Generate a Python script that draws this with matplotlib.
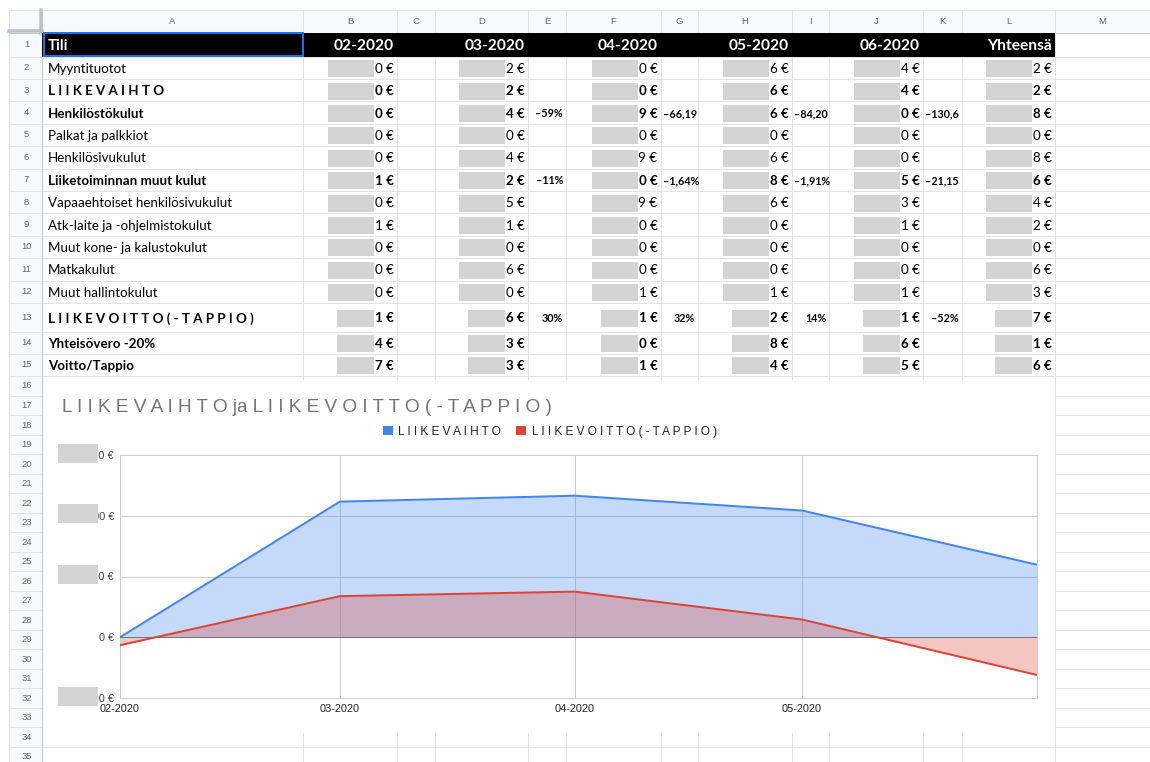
import matplotlib
matplotlib.use("Agg")
import matplotlib.pyplot as plt
import matplotlib.dates as mdates
from matplotlib.patches import Rectangle, Patch
from matplotlib.ticker import FuncFormatter, FixedLocator
from datetime import date
import numpy as np

W, H, DPI = 1150, 762, 100
PT = 72 / DPI  # points per pixel

# ---- chart data (euros) ----
months = ["02-2020", "03-2020", "04-2020", "05-2020", "06-2020"]
month_starts = [date(2020, 2, 1), date(2020, 3, 1), date(2020, 4, 1),
                date(2020, 5, 1), date(2020, 6, 1)]
liikevaihto = [0, 2232, 2330, 2086, 1194]
liikevoitto = [-131, 676, 751, 292, -621]
y_ticks = [-1000, 0, 1000, 2000, 3000]

# ---- sheet content ----
header_labels = ["Tili", "02-2020", "03-2020", "04-2020", "05-2020", "06-2020", "Yhteensä"]
row_labels = ["Myyntituotot", "L I I K E V A I H T O", "Henkilöstökulut",
              "Palkat ja palkkiot", "Henkilösivukulut", "Liiketoiminnan muut kulut",
              "Vapaaehtoiset henkilösivukulut", "Atk-laite ja -ohjelmistokulut",
              "Muut kone- ja kalustokulut", "Matkakulut", "Muut hallintokulut",
              "L I I K E V O I T T O ( - T A P P I O )", "Yhteisövero -20%", "Voitto/Tappio"]
bold_rows = [3, 4, 7, 13, 14, 15]

# amounts are masked in the sheet; only the last digit of each stays readable
digits_myyntituotot = [0, 2, 0, 6, 4, 2]
digits_henkilostokulut = [0, 4, 9, 6, 0, 8]
digits_palkat = [0, 0, 0, 0, 0, 0]
digits_henkilosivukulut = [0, 4, 9, 6, 0, 8]
digits_muut_kulut = [1, 2, 0, 8, 5, 6]
digits_vapaaehtoiset = [0, 5, 9, 6, 3, 4]
digits_atk = [1, 1, 0, 0, 1, 2]
digits_kone = [0, 0, 0, 0, 0, 0]
digits_matka = [0, 6, 0, 0, 0, 6]
digits_hallinto = [0, 0, 1, 1, 1, 3]
digits_vero = [4, 3, 0, 8, 6, 1]
digits_voitto = [7, 3, 1, 4, 5, 6]

notes_henkilostokulut = ["–59%", "–66,19", "–84,20", "–130,6"]
notes_muut_kulut = ["–11%", "–1,64%", "–1,91%", "–21,15"]


def last_digits(values):
    vals = list(values) + [sum(values)]
    return [abs(int(v)) % 10 for v in vals]


def margin_notes(profit, revenue):
    out = []
    for p, r in zip(profit[1:], revenue[1:]):
        pct = int(round(100 * p / r))
        out.append(("–" if pct < 0 else "") + f"{abs(pct)}%")
    return out


cell_digits = {
    2: digits_myyntituotot, 3: last_digits(liikevaihto), 4: digits_henkilostokulut,
    5: digits_palkat, 6: digits_henkilosivukulut, 7: digits_muut_kulut,
    8: digits_vapaaehtoiset, 9: digits_atk, 10: digits_kone, 11: digits_matka,
    12: digits_hallinto, 13: last_digits(liikevoitto), 14: digits_vero, 15: digits_voitto,
}
cell_notes = {4: notes_henkilostokulut, 7: notes_muut_kulut,
              13: margin_notes(liikevoitto, liikevaihto)}

# ---- styling ----
GRID = "#e2e3e3"
HEAD_BG = "#f8f9fa"
HEAD_LINE = "#c4c7c5"
LABEL_GRAY = "#5f6368"
MASK = "#d4d4d4"
BLUE = "#4285f4"
RED = "#db4437"
SHEET_FONT = ["Lato", "DejaVu Sans"]
UI_FONT = ["Liberation Sans", "DejaVu Sans"]

col_edges = [42, 303, 397, 435, 528, 566, 661, 698, 792, 829, 923, 962, 1055, 1150]
col_names = list("ABCDEFGHIJKLM")
value_cols = [1, 3, 5, 7, 9, 11]
note_cols = [4, 6, 8, 10]
row_heights = [24] + [22.4] * 11 + [29, 22, 22, 20] + [19.5] * 19 + [15]
row_edges = np.concatenate([[32.5], 32.5 + np.cumsum(row_heights)])
left_edge, top_edge = 9, 10
chart_box = (43, 380, 1055, 733)


def row_center(r):
    return (row_edges[r - 1] + row_edges[r]) / 2


fig = plt.figure(figsize=(W / DPI, H / DPI), dpi=DPI)
fig.patch.set_facecolor("white")
sheet = fig.add_axes([0, 0, 1, 1])
sheet.set_xlim(0, W)
sheet.set_ylim(H, 0)
sheet.axis("off")

# header strips
sheet.add_patch(Rectangle((left_edge, top_edge), W - left_edge, row_edges[0] - top_edge,
                          fc=HEAD_BG, ec="none", zorder=0))
sheet.add_patch(Rectangle((left_edge, row_edges[0]), col_edges[0] - left_edge, H,
                          fc=HEAD_BG, ec="none", zorder=0))

# cell grid
for y in row_edges[:-1]:
    sheet.plot([left_edge, W], [y, y], color=GRID, lw=1 * PT, zorder=1)
for x in col_edges[1:-1]:
    sheet.plot([x, x], [top_edge, H], color=GRID, lw=1 * PT, zorder=1)
sheet.plot([left_edge, W], [top_edge, top_edge], color=GRID, lw=1 * PT, zorder=1)
sheet.plot([left_edge, left_edge], [top_edge, H], color=GRID, lw=1 * PT, zorder=1)
sheet.plot([left_edge, W], [row_edges[0], row_edges[0]], color=HEAD_LINE, lw=1 * PT, zorder=2)
sheet.plot([col_edges[0], col_edges[0]], [top_edge, H], color=HEAD_LINE, lw=1 * PT, zorder=2)
sheet.plot([col_edges[0] - 1.5, col_edges[0] - 1.5], [top_edge, row_edges[0]],
           color="#bdc1c6", lw=3.5 * PT, zorder=2)
sheet.plot([left_edge, col_edges[0]], [row_edges[0] - 1.5, row_edges[0] - 1.5],
           color="#bdc1c6", lw=3.5 * PT, zorder=2)

# column letters and row numbers
for i, name in enumerate(col_names):
    sheet.text((col_edges[i] + col_edges[i + 1]) / 2, (top_edge + row_edges[0]) / 2 + 0.5, name,
               ha="center", va="center", fontsize=9.5 * PT, color=LABEL_GRAY, family=UI_FONT)
for r in range(1, len(row_heights) + 1):
    yc = row_center(r) if r < len(row_heights) else row_edges[r - 1] + 6.5
    sheet.text((left_edge + col_edges[0]) / 2 + 1, yc, str(r), ha="center",
               va="center", fontsize=9.5 * PT, color=LABEL_GRAY, family=UI_FONT)

# header row
sheet.add_patch(Rectangle((col_edges[0], row_edges[0]), col_edges[12] - col_edges[0],
                          row_heights[0], fc="black", ec="none", zorder=3))
sheet.text(col_edges[0] + 6, row_center(1) + 1, header_labels[0], ha="left", va="center",
           fontsize=15 * PT, fontweight="bold", color="white", family=SHEET_FONT, zorder=4)
for label, c in zip(header_labels[1:], value_cols):
    sheet.text(col_edges[c + 1] - 3.5, row_center(1) + 1, label, ha="right", va="center",
               fontsize=15.5 * PT, fontweight="bold", color="white", family=SHEET_FONT, zorder=4)
sheet.add_patch(Rectangle((col_edges[0] + 2, row_edges[0] + 0.5), col_edges[1] - col_edges[0] - 2.5,
                          row_heights[0] - 1, fc="none", ec="#1a73e8", lw=2 * PT, zorder=5))

# account rows
for i, label in enumerate(row_labels):
    r = i + 2
    weight = "bold" if r in bold_rows else "normal"
    yc = row_center(r) + 1
    sheet.text(48, yc, label, ha="left", va="center", fontsize=13.4 * PT,
               fontweight=weight, color="black", family=SHEET_FONT, zorder=4)
    mask_left = 60 if r >= 13 else 69
    for d, c in zip(cell_digits[r], value_cols):
        right = col_edges[c + 1]
        sheet.add_patch(Rectangle((right - mask_left, yc - 8.5), mask_left - 23, 17,
                                  fc=MASK, ec="none", zorder=3))
        sheet.text(right - 3.5, yc, f"{d} €", ha="right", va="center", fontsize=13.4 * PT,
                   fontweight=weight, color="black", family=SHEET_FONT, zorder=4)
    if r in cell_notes:
        for note, c in zip(cell_notes[r], note_cols):
            lo, hi = col_edges[c], col_edges[c + 1]
            if len(note) > 4:
                t = sheet.text(lo + 2, yc, note, ha="left", va="center", fontsize=10.8 * PT,
                               fontweight="bold", color="black", family=SHEET_FONT, zorder=4)
                clip = Rectangle((lo, row_edges[r - 1]), hi - lo - 1, row_heights[r - 1],
                                 transform=sheet.transData)
                t.set_clip_path(clip)
            else:
                sheet.text(hi - 3, yc, note, ha="right", va="center", fontsize=10.8 * PT,
                           fontweight="bold", color="black", family=SHEET_FONT, zorder=4)

# embedded chart
cx0, cy0, cx1, cy1 = chart_box
sheet.add_patch(Rectangle((cx0, cy0), cx1 - cx0, cy1 - cy0, fc="white", ec="none", zorder=6))
sheet.text(62, 407, "L I I K E V A I H T O ja L I I K E V O I T T O ( - T A P P I O )",
           ha="left", va="center", fontsize=19 * PT, color="#757575", family=UI_FONT, zorder=7)

px0, py0, px1, py1 = 120, 455, 1037, 698
ax = fig.add_axes([px0 / W, 1 - py1 / H, (px1 - px0) / W, (py1 - py0) / H])
x = mdates.date2num(month_starts)
ax.fill_between(x, 0, liikevaihto, color=BLUE, alpha=0.3, lw=0, zorder=2)
ax.fill_between(x, 0, liikevoitto, color=RED, alpha=0.3, lw=0, zorder=2)
ax.axhline(0, color="#777777", lw=1 * PT, zorder=2.5)
ax.plot(x, liikevaihto, color=BLUE, lw=2 * PT, zorder=3, solid_joinstyle="round")
ax.plot(x, liikevoitto, color=RED, lw=2 * PT, zorder=3, solid_joinstyle="round")
ax.set_xlim(x[0], x[-1])
ax.set_ylim(y_ticks[0], y_ticks[-1])
ax.xaxis.set_major_locator(FixedLocator(x[:-1]))
ax.set_xticklabels(months[:-1])
ax.yaxis.set_major_locator(FixedLocator(y_ticks))
ax.yaxis.set_major_formatter(FuncFormatter(
    lambda v, _: (f"{int(round(v)):,}".replace(",", " ").replace("-", "−")) + " €"))
ax.grid(True, color="#cccccc", lw=1 * PT, zorder=0)
ax.set_axisbelow(True)
for s in ax.spines.values():
    s.set_color("#cccccc")
    s.set_linewidth(1 * PT)
ax.tick_params(length=0)
ax.tick_params(axis="y", pad=6 * PT, labelsize=11 * PT, labelcolor="#444444")
ax.tick_params(axis="x", pad=6 * PT, labelsize=11 * PT, labelcolor="#222222")
for lab in ax.get_xticklabels() + ax.get_yticklabels():
    lab.set_family(UI_FONT)

# masked amounts on the value axis
for v in y_ticks:
    if v == 0:
        continue
    _, yd = ax.transData.transform((x[0], v))
    ytop = H - yd
    fig.add_artist(Rectangle((58 / W, 1 - (ytop + 7.5) / H), 40 / W, 19 / H,
                             transform=fig.transFigure, fc=MASK, ec="none", zorder=10))

leg = fig.legend([Patch(fc=BLUE), Patch(fc=RED)],
                 ["L I I K E V A I H T O", "L I I K E V O I T T O ( - T A P P I O )"],
                 loc="center", bbox_to_anchor=(550 / W, 1 - 432 / H), ncol=2, frameon=False,
                 prop={"family": UI_FONT, "size": 11.7 * PT}, handlelength=0.8, handleheight=0.8,
                 handletextpad=0.5, columnspacing=1.3)
for t in leg.get_texts():
    t.set_color("#222222")

fig.savefig("out.png", dpi=DPI)
